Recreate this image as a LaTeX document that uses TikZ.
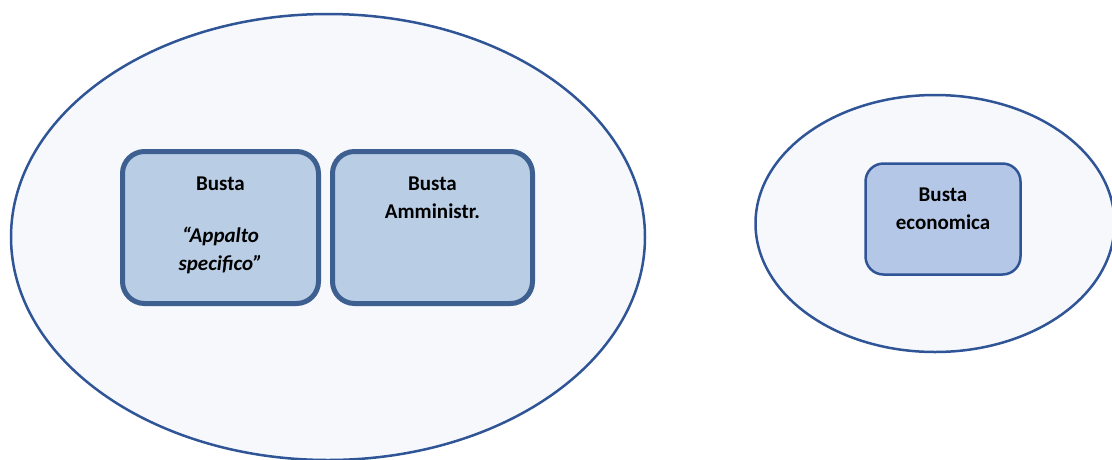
\documentclass[tikz,border=0pt]{standalone}
\usepackage{fontspec}
\setmainfont{Carlito}[BoldFont=Carlito Bold, BoldItalicFont=Carlito Bold Italic]
\usepackage{tikz}
\usetikzlibrary{shapes, shapes.geometric, positioning}
\definecolor{ringblue}{RGB}{47,85,151}
\definecolor{ringfill}{RGB}{246,248,252}
\definecolor{boxedge}{RGB}{61,96,145}
\definecolor{boxfill}{RGB}{185,205,229}
\definecolor{ecofill}{RGB}{180,199,231}

\begin{document}
\begin{tikzpicture}[x=1pt, y=1pt]
      % Define node styles
      \tikzstyle{ring} = [ellipse, draw=ringblue, fill=ringfill, line width=2.5pt, inner sep=0pt]
      \tikzstyle{busta} = [rectangle, draw=boxedge, fill=boxfill, rounded corners=22pt, line width=5pt, minimum width=196pt, minimum height=152pt]
      \tikzstyle{ecobox} = [rectangle, draw=ringblue, fill=ecofill, rounded corners=18pt, line width=2.5pt, minimum width=155pt, minimum height=111pt]
      \tikzstyle{bustatext} = [inner sep=0pt, align=center, anchor=north, font=\fontsize{21}{28}\selectfont\bfseries]

      \useasboundingbox (0,0) rectangle (1112,-459);

      % Outer ellipses
      \node [ring, minimum width=634pt, minimum height=446pt] (tecnica) at (328,-237) {};
      \node [ring, minimum width=359pt, minimum height=257pt] (offerta) at (935,-223.5) {};

      % Envelopes
      \node [busta] (spec) at (220.5,-227.5) {};
      \node [busta, minimum width=200pt] (ammin) at (432.5,-227.5) {};
      \node [ecobox] (eco) at (943,-219) {};

      % Texts
      \node [bustatext, below=28pt of spec.north] (specT) {Busta\\[23.5pt]\textit{“Appalto}\\\textit{specifico”}};
      \node [bustatext, below=28pt of ammin.north] (amminT) {Busta\\Amministr.};
      \node [bustatext, below=25pt of eco.north] (ecoT) {Busta\\economica};
    \end{tikzpicture}
\end{document}
